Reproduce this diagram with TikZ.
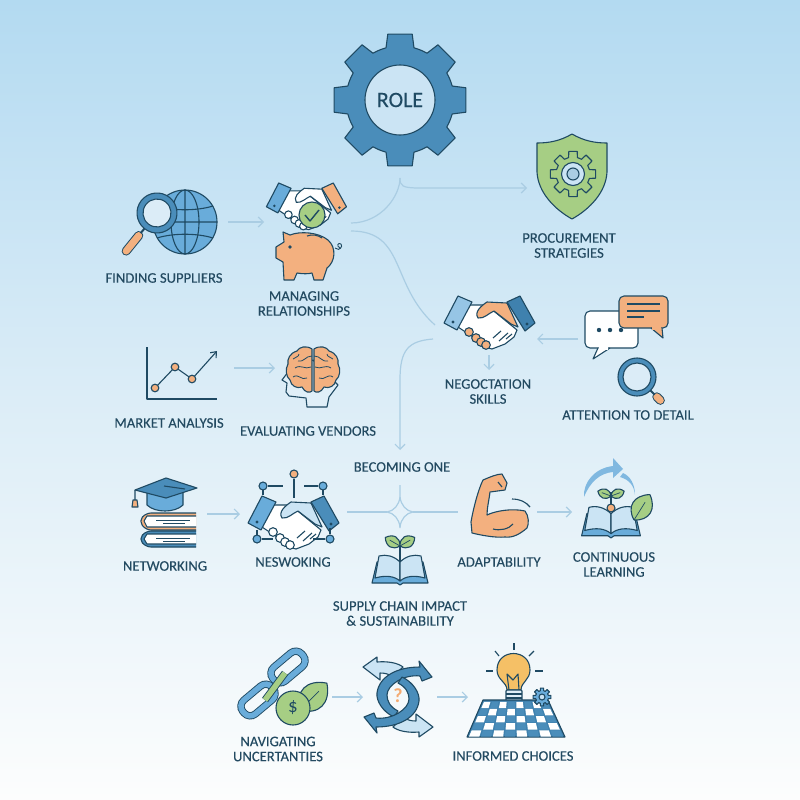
\documentclass[tikz,border=0pt]{standalone}
\usepackage{fontspec}
\setmainfont{Carlito}
\newfontfamily\lblfont{Carlito}[FakeBold=0.2]
\usetikzlibrary{arrows.meta}
\definecolor{ink}{HTML}{1F4A63}
\definecolor{txt}{HTML}{234A61}
\definecolor{flowc}{HTML}{AACDE3}
\definecolor{gearc}{HTML}{4A8DBA}
\definecolor{midblue}{HTML}{69ACDA}
\definecolor{darkblue}{HTML}{3F81AE}
\definecolor{pale}{HTML}{CBE4F4}
\definecolor{leafc}{HTML}{A6CE84}
\definecolor{peach}{HTML}{F3B07F}
\definecolor{bgtop}{HTML}{B3DAF1}
\definecolor{bgmid}{HTML}{DCEDF7}
\definecolor{bgbot}{HTML}{FCFDFD}
\tikzset{
  lbl/.style={text=txt,font=\lblfont\fontsize{14.6}{15}\selectfont,align=center,inner sep=0pt},
  iconbox/.style n args={2}{minimum width=#1,minimum height=#2,inner sep=0pt,outer sep=0pt},
  iconline/.style={draw=ink,line width=1.1pt,line join=round},
  flow/.style={draw=flowc,line width=1.2pt},
  flowtip/.style={-{Straight Barb[length=5pt,width=10pt]}},
  piped/.style={draw=ink,line width=.9pt,double=#1,double distance=5.5pt},
  pics/cog/.style n args={3}{code={
    \draw[iconline,fill=#3] (-15:#1) \foreach \a in {0,45,...,315} {
      -- ({\a-15}:#1) -- ({\a-10.5}:#2) -- ({\a+10.5}:#2) -- ({\a+15}:#1)
      arc[start angle=\a+15,end angle=\a+30,radius=#1]} -- cycle;
  }},
  pics/lens/.style n args={3}{code={
    \draw[draw=ink,line width=9pt,line cap=round] (#1+9,0) -- (#3,0);
    \draw[draw=peach,line width=7pt,line cap=round] (#1+9,0) -- (#3,0);
    \draw[iconline,line width=2pt] (#1,0) -- (#1+6,0);
    \draw[iconline,fill=gearc] (0,0) circle (#1);
    \draw[iconline,fill=pale!70!white] (0,0) circle (#2);
  }},
  pics/leaf/.style={code={
    \draw[iconline,fill=leafc] (0,0) .. controls (.25,-.45) and (.7,-.45) .. (1,0)
      .. controls (.7,.45) and (.25,.45) .. (0,0);
    \draw[iconline,line width=.7pt] (0,0) -- (.7,0);
  }},
  pics/openbook/.style={code={
    \draw[iconline,fill=midblue] (-28,15) -- (-23,-6) -- (23,-6) -- (28,15) -- (3,15) -- (0,17) -- (-3,15) -- cycle;
    \draw[iconline,fill=pale] (0,-6) .. controls (-6,-12) and (-14,-14) .. (-21,-12) -- (-25,10)
      .. controls (-14,7) and (-6,8) .. (0,13) -- cycle;
    \draw[iconline,fill=pale] (0,-6) .. controls (6,-12) and (14,-14) .. (21,-12) -- (25,10)
      .. controls (14,7) and (6,8) .. (0,13) -- cycle;
  }},
  pics/shake/.style n args={4}{code={
    \draw[iconline,fill=white] (-22,-16) -- (-6,-16) -- (6,-9) -- (28,9) -- (25,16) -- (16,23)
      -- (3,28) -- (-8,25) -- (-16,16) -- (-31,6) -- cycle;
    \foreach \px/\py in {-20/11,-13/17,-8/21,-3/24}
      \draw[iconline,fill=#4] (\px,\py) circle (4.3);
    \draw[iconline,fill=#3] (-11,-3) .. controls (-15,-9) and (-8,-15) .. (-2,-19) -- (18,-18)
      -- (29,6) -- (22,3) -- (5,-10) .. controls (0,-8) and (-5,-2) .. (-11,-3) -- cycle;
    \draw[iconline] (4,17) -- (12,10) (10,20) -- (19,12) (17,18) -- (23,13);
    \draw[iconline,fill=#1] (-31,-25) -- (-17,-19) -- (-32,9) -- (-45,2) -- cycle;
    \draw[iconline,fill=#2] (31,-25) -- (46,2) -- (36,10) -- (18,-19) -- cycle;
    \fill[ink] (-36,1) circle (1.6) (38,3) circle (1.6);
  }}
}
\begin{document}
\begin{tikzpicture}[x=1pt,y=-1pt]

  \shade[top color=bgtop,bottom color=bgbot,middle color=bgmid] (0,0) rectangle (800,800);

  % gear
  \pic at (400,100) {cog={54}{67}{gearc}};
  \node[circle,iconline,fill=pale,minimum size=70pt,text=ink,font=\lblfont\fontsize{22}{22}\selectfont,inner sep=0pt] (role) at (400,100) {ROLE};

  % shield
  \draw[iconline,fill=leafc] (572,134) .. controls (560,141) and (549,143) .. (537,143) -- (537,172)
    .. controls (538,192) and (554,209) .. (572,219) .. controls (590,209) and (606,192) .. (607,172)
    -- (607,143) .. controls (595,143) and (584,141) .. (572,134) -- cycle;
  \pic at (573,174) {cog={17}{23}{leafc}};
  \draw[iconline,fill=pale] (573,174) circle (11.5);
  \draw[iconline,fill=flowc] (573,174) circle (6);

  % globe and lens
  \begin{scope}[shift={(185,222)}]
    \draw[iconline,fill=midblue] (0,0) circle (32);
    \draw[iconline] (0,-32) -- (0,32) (-32,0) -- (32,0) (0,0) ellipse (14 and 32);
    \draw[iconline] (-28,-16) .. controls (-12,-11) and (12,-11) .. (28,-16);
    \draw[iconline] (-28,16) .. controls (-12,11) and (12,11) .. (28,16);
  \end{scope}
  \pic[rotate=-129] at (157,213) {lens={20}{14}{49}};

  % handshake and piggy
  \pic[scale=.88] at (306,205) {shake={midblue}{peach}{white}{white}};
  \draw[iconline,fill=leafc] (312,215) circle (13);
  \draw[iconline,line width=1.4pt] (305,215) -- (310,221) -- (319,210);
  \draw[iconline,fill=peach] (276,247) -- (276,258) -- (283,262) -- (284,280) -- (294,280) -- (297,273)
    .. controls (303,274) and (308,274) .. (312,273) -- (314,280) -- (323,280) -- (327,268)
    .. controls (335,262) and (337,248) .. (328,240) .. controls (318,232) and (300,231) .. (290,235)
    -- (283,232) -- (284,242) -- cycle;
  \draw[iconline] (307,236) .. controls (312,234) and (318,235) .. (322,238);
  \fill[ink] (290,247) circle (1.8);
  \draw[iconline,line width=.9pt] (335,248) .. controls (340,252) and (343,246) .. (341,244) .. controls (338,242) and (336,246) .. (340,248);

  % negotiation
  \pic at (489,321) {shake={midblue!70!white}{darkblue}{peach}{peach}};
  \draw[iconline,fill=white,rounded corners=5pt] (585,311) rectangle (638,348);
  \draw[iconline,fill=white] (598,348) -- (593,359) -- (610,348);
  \fill[white] (599,346) rectangle (608,349.5);
  \fill[ink] (599,330) circle (2.2) (610,330) circle (2.2) (621,330) circle (2.2);
  \draw[iconline,fill=peach,rounded corners=5pt] (619,296) rectangle (668,328);
  \draw[iconline,fill=peach] (651,328) -- (663,338) -- (662,328);
  \fill[peach] (652,326) rectangle (661,329.5);
  \draw[iconline] (627,304) -- (660,304) (627,311) -- (660,311) (627,317) -- (644,317);
  \pic[rotate=-45] at (637,377) {lens={19}{14}{33}};

  % chart
  \draw[iconline] (147,347) -- (147,399) -- (217,399);
  \draw[iconline,-{Straight Barb[length=5pt,width=8pt]}] (155,388) -- (175,367) -- (192,379) -- (217,351);
  \foreach \cx/\cy in {155/388,175/367,192/379}
    \draw[iconline,fill=peach] (\cx,\cy) circle (3.8);

  % brain
  \draw[iconline,fill=pale!60!white] (288,372) -- (282,380) -- (287,383) -- (286,392) -- (289,396) -- (306,398)
    -- (307,407) -- (327,407) -- (329,397) -- (338,385) -- (313,360) -- cycle;
  \foreach \sx in {1,-1} {
    \begin{scope}[shift={(313,370)},xscale=\sx]
      \draw[iconline,fill=peach] (-1,-21) .. controls (-7,-25) and (-14,-23) .. (-16,-19)
        .. controls (-23,-17) and (-26,-11) .. (-25,-6) .. controls (-28,-1) and (-27,7) .. (-23,10)
        .. controls (-22,16) and (-16,19) .. (-11,17) .. controls (-8,23) and (-3,23) .. (-1,21) -- cycle;
      \draw[iconline,line width=.8pt] (-1,-14) .. controls (-8,-14) and (-8,-8) .. (-15,-9);
      \draw[iconline,line width=.8pt] (-18,-2) .. controls (-12,-6) and (-8,0) .. (-2,-3);
      \draw[iconline,line width=.8pt] (-20,7) .. controls (-14,3) and (-12,11) .. (-6,8);
      \draw[iconline,line width=.8pt] (-14,-16) .. controls (-14,-13) and (-18,-13) .. (-20,-11);
    \end{scope}
  }

  % cap and books
  \draw[iconline,fill=midblue] (147,492) -- (147,505) .. controls (155,513) and (175,513) .. (183,505) -- (183,492) -- cycle;
  \draw[iconline,fill=gearc] (166,478) -- (197,488) -- (166,498) -- (135,490) -- cycle;
  \draw[iconline] (135,490) -- (135,500) (164,486) -- (185,489);
  \draw[iconline,fill=peach] (133,500) -- (137,500) -- (138,507) -- (132,507) -- cycle;
  \draw[iconline,fill=peach,rounded corners=5pt] (196,513) -- (146,513) -- (139,521) -- (146,530) -- (196,530);
  \draw[iconline,fill=white] (196,516) -- (147,516) -- (144,521) -- (147,527) -- (196,527);
  \draw[iconline,fill=gearc,rounded corners=5pt] (196,531) -- (146,531) -- (139,539) -- (146,547) -- (196,547);
  \draw[iconline,fill=white] (196,534) -- (147,534) -- (144,539) -- (147,544) -- (196,544);
  \draw[iconline,line width=.7pt] (156,520) -- (190,520) (163,523.5) -- (185,523.5) (156,538) -- (190,538) (163,541) -- (185,541);

  % network handshake
  \pic at (293,521) {shake={midblue}{gearc}{pale}{white}};
  \draw[iconline] (268,486) -- (283,486) (294,479) -- (294,498) (304,486) -- (318,486) (263,490) -- (263,495) (323,490) -- (323,495);
  \draw[iconline] (262,539) -- (273,539) (313,539) -- (325,539) (257,530) -- (257,535) (330,528) -- (330,534);
  \foreach \cx/\cy/\cc in {263/486/midblue,294/474/peach,323/486/midblue,257/539/midblue,330/539/midblue}
    \draw[iconline,fill=\cc] (\cx,\cy) circle (4);

  % book and sprout
  \pic at (400,568) {openbook};
  \draw[iconline] (400,543) -- (400,562);
  \pic[rotate=150,scale=17] at (400,546) {leaf};
  \pic[rotate=30,scale=17] at (400,546) {leaf};

  % muscle
  \draw[iconline,fill=peach] (472,533) -- (471,522) .. controls (473,510) and (478,490) .. (483,480)
    .. controls (490,477) and (497,474) .. (502,474) -- (507,483) -- (505,490) -- (490,492)
    .. controls (489,500) and (487,508) .. (487,515) .. controls (495,511) and (512,508) .. (525,511)
    .. controls (529,516) and (529,524) .. (527,528) .. controls (520,534) and (513,538) .. (505,537)
    .. controls (495,538) and (480,535) .. (472,533) -- cycle;
  \draw[iconline] (493,529) .. controls (500,531) and (509,529) .. (513,524);
  \draw[iconline] (512,499) .. controls (520,499) and (526,502) .. (530,507);
  \draw[iconline] (498,482) -- (502,487);

  % learning
  \fill[midblue!85!white] (584,497) .. controls (583,482) and (595,468) .. (613,466) -- (613,458) -- (623,469) -- (613,478) -- (613,472) .. controls (600,473) and (590,482) .. (584,497) -- cycle;
  \fill[midblue!85!white] (623,473) .. controls (630,476) and (635,484) .. (635,495) .. controls (634,486) and (630,480) .. (620,477) -- cycle;
  \pic[scale=1.05] at (611,520) {openbook};
  \draw[iconline] (611,492) -- (611,504);
  \pic[rotate=160,scale=14] at (611,496) {leaf};
  \pic[rotate=20,scale=14] at (611,496) {leaf};
  \draw[iconline,fill=peach] (611,508) circle (4);
  \pic[rotate=58,scale=30] at (634,520) {leaf};

  % chain
  \begin{scope}[shift={(288,667)},rotate=40]
    \draw[piped=midblue,rounded corners=8pt] (-19,-9) rectangle (19,9);
  \end{scope}
  \begin{scope}[shift={(258,700)},rotate=40]
    \draw[piped=midblue,rounded corners=8pt] (-19,-9) rectangle (19,9);
  \end{scope}
  \draw[piped=leafc] (265,700) -- (285,673);
  \pic[rotate=45,scale=38] at (300,710) {leaf};
  \draw[iconline,fill=leafc] (293,708) circle (17);
  \node[text=ink,font=\fontsize{19}{19}\selectfont,inner sep=0pt] (dollar) at (293,708) {\$};

  % swirl
  \begin{scope}[shift={(398,697)}]
    \foreach \r in {0,180} {
      \begin{scope}[rotate=\r]
        \draw[iconline,fill=pale] (-35,-30) -- (-21,-40) -- (-21,-35) .. controls (-10,-36) and (0,-34) .. (5,-30) -- (-5,-20)
          .. controls (-9,-23) and (-13,-24) .. (-18,-24) -- (-18,-17) -- cycle;
      \end{scope}
    }
    \foreach \r in {0,180} {
      \begin{scope}[rotate=\r]
        \draw[iconline,fill=gearc] (-4,20) .. controls (-15,15) and (-22,4) .. (-21,-4) .. controls (-19,-20) and (-2,-30) .. (22,-30)
          -- (21,-36) -- (34,-20) -- (24,-16) -- (22,-21) .. controls (6,-23) and (-11,-12) .. (-11,-2)
          .. controls (-11,4) and (-8,10) .. (0,14) -- cycle;
      \end{scope}
    }
  \end{scope}
  \node[text=peach!90!orange,font=\fontsize{20}{20}\selectfont\bfseries,inner sep=0pt] (query) at (398,696) {?};

  % bulb and board
  \foreach \ax/\ay/\bx/\by in {514/643/514/650,495/651/499/656,534/651/529/656,486/671/493/671,535/671/543/671}
    \draw[iconline] (\ax,\ay) -- (\bx,\by);
  \draw[iconline,fill=peach!80!yellow] (507,690) .. controls (507,682) and (497,680) .. (497,670) .. controls (497,648) and (530,648) .. (530,670)
    .. controls (530,680) and (521,682) .. (521,690) -- cycle;
  \draw[iconline] (509,690) -- (507,674) -- (513,680) -- (518,674) -- (519,690);
  \draw[iconline,fill=pale!60!white,rounded corners=1pt] (506,690) rectangle (522,702);
  \draw[iconline] (506,694) -- (522,694) (506,698) -- (522,698);
  \draw[iconline,fill=darkblue] (483,700) -- (548,700) -- (565,737) -- (467,737) -- cycle;
  \foreach \i in {0,...,7} {
    \foreach \j in {0,...,4} {
      \pgfmathsetmacro{\vtop}{(\j+.1)/5.2+.03}
      \pgfmathsetmacro{\vbot}{(\j+1)/5.2+.03}
      \pgfmathsetmacro{\ltop}{484-16*\vtop}
      \pgfmathsetmacro{\rtop}{547+17*\vtop}
      \pgfmathsetmacro{\lbot}{484-16*\vbot}
      \pgfmathsetmacro{\rbot}{547+17*\vbot}
      \pgfmathsetmacro{\ytop}{700+37*\vtop}
      \pgfmathsetmacro{\ybot}{700+37*\vbot}
      \pgfmathsetmacro{\wtop}{(\rtop-\ltop)/8}
      \pgfmathsetmacro{\wbot}{(\rbot-\lbot)/8}
      \pgfmathtruncatemacro{\pick}{mod(\i+\j,2)}
      \ifnum\pick=0 \def\cellc{white}\else\def\cellc{gearc}\fi
      \fill[\cellc] ({\ltop+\i*\wtop+.8},\ytop) -- ({\ltop+(\i+1)*\wtop-.8},\ytop) -- ({\lbot+(\i+1)*\wbot-.8},\ybot) -- ({\lbot+\i*\wbot+.8},\ybot) -- cycle;
    }
  }
  \pic at (542,697) {cog={6.5}{9}{midblue}};
  \draw[iconline,fill=pale] (542,697) circle (3);

  \begin{scope}[every node/.style={lbl}]
    \node (suppliers) at (164,278) {FINDING SUPPLIERS};
    \node (relations) at (304,303.5) {MANAGING\\RELATIONSHIPS};
    \node (strategies) at (569,245.5) {PROCUREMENT\\STRATEGIES};
    \node (skills) at (488,391.5) {NEGOCTATION\\SKILLS};
    \node (detail) at (628,415) {ATTENTION TO DETAIL};
    \node (market) at (169,423) {MARKET ANALYSIS};
    \node (vendors) at (308,431) {EVALUATING VENDORS};
    \node (one) at (402,467) {BECOMING ONE};
    \node (networking) at (165,566) {NETWORKING};
    \node (neswoking) at (293,562) {NESWOKING};
    \node (adapt) at (499,562) {ADAPTABILITY};
    \node (continuous) at (614,564.5) {CONTINUOUS\\LEARNING};
    \node (impact) at (400,613.5) {SUPPLY CHAIN IMPACT\\\& SUSTAINABILITY};
    \node (uncertain) at (278,749) {NAVIGATING\\UNCERTANTIES};
    \node (informed) at (513,756) {INFORMED CHOICES};
  \end{scope}

  \begin{scope}[every node/.style={inner sep=0pt,outer sep=0pt}]
    \node[iconbox={134}{156}] (rolegear) at (400,100) {};
    \node[iconbox={90}{60}] (shieldicon) at (572,188) {};
    \node[iconbox={78}{60}] (globeicon) at (189,222) {};
    \node[iconbox={87}{100}] (dealicon) at (307.5,222) {};
    \node[iconbox={92}{70}] (shakeicon) at (491,339) {};
    \node[iconbox={84}{40}] (bubbleicon) at (620,339) {};
    \node[iconbox={86}{40}] (charticon) at (191,368) {};
    \node[iconbox={70}{60}] (brainicon) at (310,368) {};
    \node[iconbox={72}{60}] (capicon) at (171,514) {};
    \node[iconbox={106}{40}] (meeticon) at (293,514) {};
    \node[iconbox={90}{40}] (muscleicon) at (492,512) {};
    \node[iconbox={78}{40}] (learnicon) at (611,512) {};
    \node[iconbox={100}{50}] (chainicon) at (282,697) {};
    \node[iconbox={74}{50}] (swirlicon) at (400,697) {};
    \node[iconbox={74}{50}] (boardicon) at (505,697) {};
    \coordinate (dealup) at (351,223);
    \coordinate (dealdown) at (351,231);
    \coordinate (shakeup) at (435,325);
    \coordinate (shakelow) at (433,339);
    \coordinate (oneabove) at (400,450);
    \coordinate (skillsabove) at (489,370);
    \coordinate (shakebelow) at (489,355);
    \coordinate (starleft) at (347,512);
    \coordinate (starright) at (458,512);
    \coordinate (starup) at (400,485);
    \coordinate (stardown) at (400,528);
  \end{scope}

  \begin{scope}[every edge/.style={flow,flowtip}]
    \path (globeicon.east) edge (dealicon.west);
    \path (bubbleicon.west) edge (shakeicon.east);
    \path (charticon.east) edge (brainicon.west);
    \path (capicon.east) edge (meeticon.west);
    \path (muscleicon.east) edge (learnicon.west);
    \path (chainicon.east) edge (swirlicon.west);
    \path (swirlicon.east) edge (boardicon.west);
    \path (shakebelow) edge (skillsabove);
  \end{scope}
  \draw[flow,flowtip] (rolegear.south) .. controls +(0,8) and +(-18,0) .. (420,188) -- (shieldicon.west);
  \draw[flow] (dealup) .. controls +(30,0) and +(0,18) .. (rolegear.south);
  \draw[flow] (dealdown) .. controls +(55,0) and +(-45,-40) .. (shakeup);
  \draw[flow,flowtip] (shakelow) .. controls +(-25,2) and +(0,-30) .. (400,380) -- (oneabove);
  \draw[flow] (starup) -- (400,497) .. controls (401,505) and (406,511) .. (413,512)
    .. controls (406,513) and (401,519) .. (400,527) -- (stardown);
  \draw[flow] (400,497) .. controls (399,505) and (394,511) .. (387,512)
    .. controls (394,513) and (399,519) .. (400,527);
  \draw[flow] (starleft) -- (387,512) (413,512) -- (starright);

\end{tikzpicture}
\end{document}
